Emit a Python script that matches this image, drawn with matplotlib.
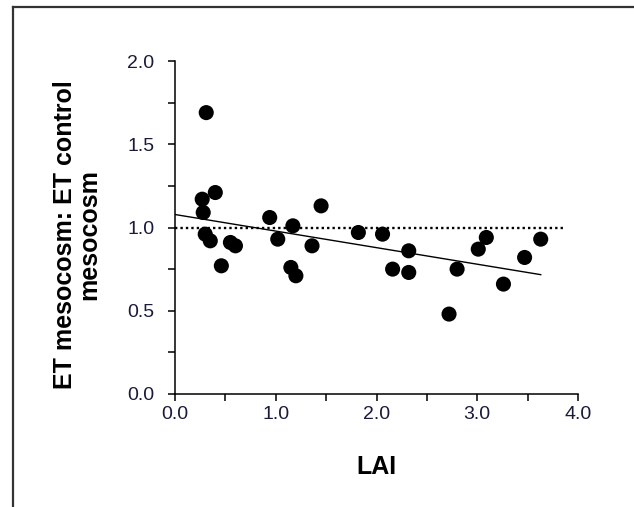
import numpy as np
import matplotlib
matplotlib.use("Agg")
import matplotlib.pyplot as plt
from matplotlib.lines import Line2D
from matplotlib.ticker import MultipleLocator

plt.rcParams["font.family"] = ["Liberation Sans", "DejaVu Sans"]

# LAI vs ET ratio
lai = [0.31, 0.27, 0.40, 0.28, 0.30, 0.35, 0.46, 0.55, 0.60, 0.94,
       1.02, 1.17, 1.15, 1.20, 1.36, 1.45, 1.82, 2.06, 2.16, 2.32,
       2.32, 2.80, 2.72, 3.01, 3.09, 3.26, 3.47, 3.63]
et_ratio = [1.69, 1.17, 1.21, 1.09, 0.96, 0.92, 0.77, 0.91, 0.89, 1.06,
            0.93, 1.01, 0.76, 0.71, 0.89, 1.13, 0.97, 0.96, 0.75, 0.86,
            0.73, 0.75, 0.48, 0.87, 0.94, 0.66, 0.82, 0.93]

# regression line and 1:1 reference
fit_intercept = 1.078
fit_slope = -0.0995
ref_level = 1.0
ref_x = [0.0, 3.86]

x_ticks = [0.0, 1.0, 2.0, 3.0, 4.0]
y_ticks = [0.0, 0.5, 1.0, 1.5, 2.0]

W, H = 634, 507
fig = plt.figure(figsize=(W / 100, H / 100), dpi=100)
fig.patch.set_facecolor("white")

# frame lines around the figure (left and top visible)
fig.add_artist(Line2D([13 / W, 13 / W], [0, 1 - 7 / H], transform=fig.transFigure,
                      color="#333333", lw=1.6))
fig.add_artist(Line2D([13 / W, 1], [1 - 7 / H, 1 - 7 / H], transform=fig.transFigure,
                      color="#333333", lw=1.6))

ax = fig.add_axes([175 / W, 1 - 394 / H, (578 - 175) / W, (394 - 61) / H])

ax.scatter(lai, et_ratio, s=118, color="black", edgecolors="none", zorder=3, clip_on=False)

fx = np.array([0.0, max(lai)])
ax.plot(fx, fit_intercept + fit_slope * fx, color="black", lw=1.0, zorder=2)
ax.plot(ref_x, [ref_level, ref_level], color="black", lw=1.7,
        linestyle=(0, (1, 1.3)), dash_capstyle="butt", zorder=2)

ax.set_xlim(0, 4)
ax.set_ylim(0, 2)
ax.set_xticks(x_ticks)
ax.set_yticks(y_ticks)
ax.set_xticklabels([f"{v:.1f}" for v in x_ticks])
ax.set_yticklabels([f"{v:.1f}" for v in y_ticks])
ax.xaxis.set_minor_locator(MultipleLocator(0.5))
ax.yaxis.set_minor_locator(MultipleLocator(0.25))

ax.tick_params(axis="both", which="both", direction="out", length=5, width=1.1,
               color="black")
ax.tick_params(axis="x", which="major", labelsize=14, pad=3.5)
ax.tick_params(axis="y", which="major", labelsize=14, pad=10)
for lbl in ax.get_xticklabels() + ax.get_yticklabels():
    lbl.set_color("#1a1a3a")

ax.spines["top"].set_visible(False)
ax.spines["right"].set_visible(False)
ax.spines["left"].set_linewidth(1.1)
ax.spines["bottom"].set_linewidth(1.1)

ax.set_xlabel("LAI", fontsize=18, fontweight="bold", va="center")
ax.xaxis.set_label_coords(0.5, (394 - 467) / 333)
ax.set_ylabel("ET mesocosm: ET control\nmesocosm", fontsize=18, fontweight="bold",
              va="center", ha="center", linespacing=1.0)
ax.yaxis.set_label_coords((77 - 175) / 403, (394 - 235) / 333)

fig.savefig("out.png", dpi=100)
